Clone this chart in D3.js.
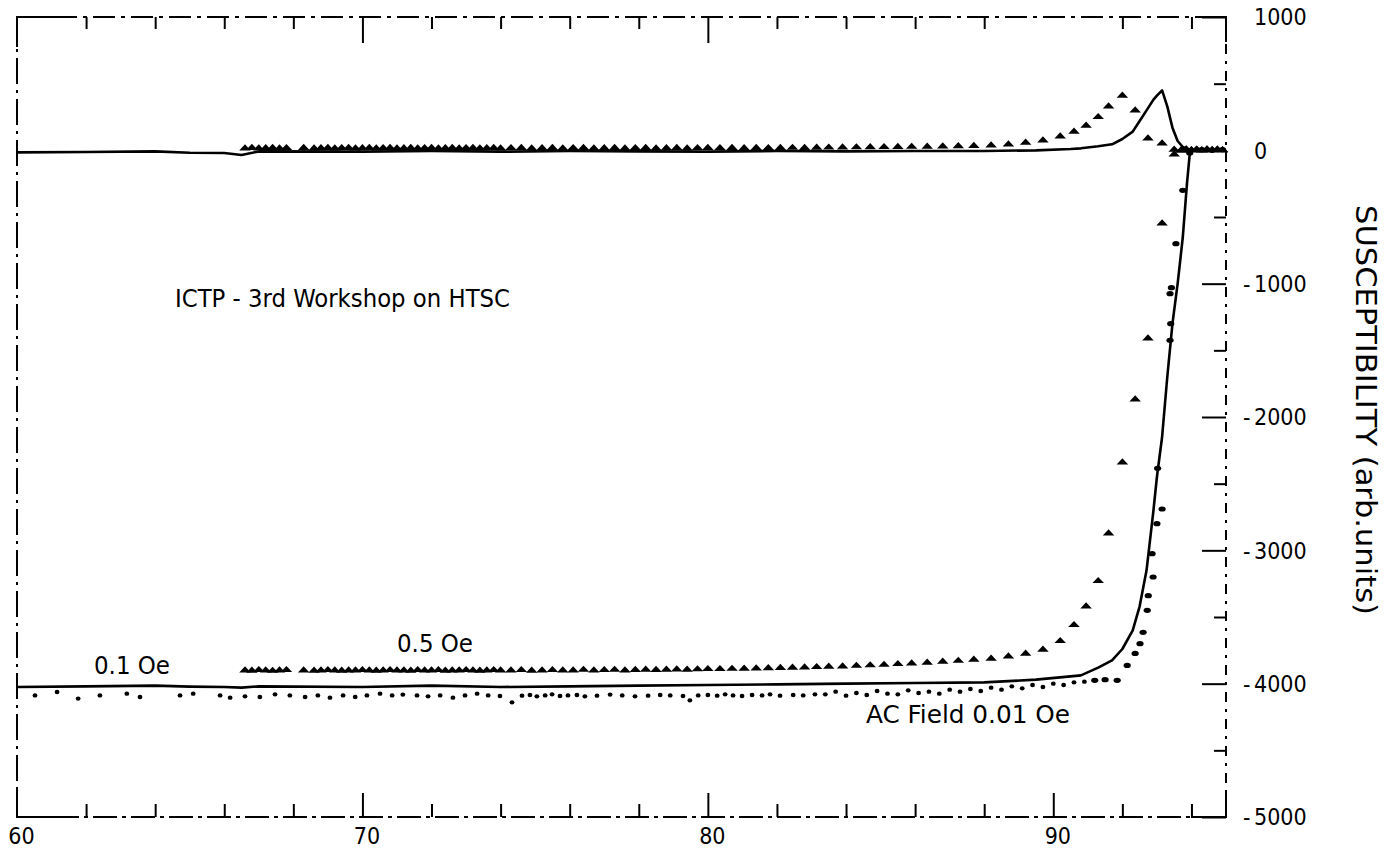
<!DOCTYPE html>
<html>
<head>
<meta charset="utf-8">
<script src="https://cdn.jsdelivr.net/npm/d3@7"></script>
<style>
  html, body { margin: 0; padding: 0; background: #fff; }
  svg { display: block; }
  text { font-family: 'DejaVu Sans', sans-serif; font-stretch: condensed; fill: #000; }
</style>
</head>
<body>
<svg id="chart" width="1394" height="852"></svg>
<script>
// ---------------- DATA ----------------
const xDomain = [60, 95];
const yDomain = [-5000, 1000];
const xTickValues = [60, 70, 80, 90];
const yTickValues = [1000, 0, -1000, -2000, -3000, -4000, -5000];

// 0.1 Oe : solid lines (real part bottom, imaginary part top)
const tLine = [60, 62, 64, 65, 66, 66.5, 67, 70, 72, 74, 76, 78, 80, 82, 84, 86, 88, 89.5, 90.5, 90.8, 91.3, 91.7, 92.0, 92.3, 92.5, 92.7, 92.9, 93.0, 93.15, 93.3, 93.45, 93.6, 93.75, 93.87, 93.96, 94.2, 94.6, 95];
const chiRealLine = [-4025, -4020, -4015, -4022, -4025, -4030, -4020, -4025, -4015, -4025, -4020, -4015, -4010, -4005, -4000, -3995, -3990, -3970, -3945, -3938, -3880, -3826, -3740, -3600, -3420, -3150, -2700, -2450, -2150, -1700, -1300, -1000, -650, -250, 0, 5, 10, 0];
const chiImagLine = [-15, -12, -8, -18, -20, -35, -8, -10, -5, -10, -5, -8, -10, -5, -8, -5, -5, 0, 10, 15, 30, 45, 85, 140, 220, 300, 380, 410, 450, 330, 170, 70, 25, 10, 0, 0, 5, 0];

// 0.5 Oe : triangles (real part bottom, imaginary part top)
const tHalf = [66.6, 66.8, 67.0, 67.2, 67.4, 67.6, 67.8, 68.3, 68.6, 68.8, 69.0, 69.2, 69.4, 69.6, 69.8, 70.0, 70.2, 70.4, 70.6, 70.8, 71.0, 71.2, 71.4, 71.6, 71.8, 72.0, 72.2, 72.4, 72.6, 72.8, 73.0, 73.2, 73.4, 73.6, 73.8, 74.0, 74.3, 74.6, 74.9, 75.2, 75.5, 75.8, 76.1, 76.4, 76.7, 77.0, 77.3, 77.6, 77.9, 78.2, 78.5, 78.8, 79.1, 79.4, 79.7, 80.0, 80.35, 80.7, 81.05, 81.4, 81.75, 82.1, 82.45, 82.8, 83.15, 83.5, 83.9, 84.3, 84.7, 85.1, 85.5, 85.9, 86.35, 86.8, 87.25, 87.7, 88.2, 88.7, 89.2, 89.7, 90.2, 90.6, 90.95, 91.3, 91.6, 92.0, 92.37, 92.74, 93.15, 93.5, 93.7, 93.85, 94.0, 94.15, 94.3, 94.45, 94.6, 94.75, 94.9];
const chiRealHalf = [-3900, -3902, -3898, -3900, -3903, -3900, -3898, -3900, -3902, -3900, -3898, -3900, -3902, -3900, -3900, -3898, -3900, -3902, -3900, -3898, -3900, -3900, -3902, -3898, -3900, -3900, -3898, -3902, -3900, -3900, -3898, -3900, -3902, -3900, -3898, -3900, -3900, -3898, -3902, -3900, -3898, -3900, -3900, -3896, -3900, -3898, -3896, -3900, -3897, -3895, -3897, -3895, -3893, -3895, -3892, -3890, -3890, -3888, -3887, -3885, -3884, -3882, -3880, -3878, -3875, -3872, -3870, -3866, -3862, -3858, -3853, -3848, -3842, -3835, -3828, -3820, -3812, -3795, -3775, -3745, -3680, -3560, -3420, -3230, -2873, -2341, -1868, -1410, -548, -30, 0, 5, 0, 5, 0, 5, 0, 5, 0];
const chiImagHalf = [15, 18, 15, 16, 18, 15, 17, 18, 15, 16, 18, 15, 17, 18, 15, 16, 18, 15, 17, 18, 15, 16, 18, 15, 17, 18, 15, 16, 18, 15, 17, 18, 15, 16, 18, 15, 17, 18, 15, 16, 18, 15, 17, 18, 15, 16, 18, 15, 17, 18, 15, 16, 18, 15, 17, 18, 17, 18, 16, 18, 17, 18, 19, 18, 20, 21, 22, 23, 24, 25, 26, 27, 28, 29, 31, 33, 37, 45, 58, 75, 105, 140, 185, 250, 330, 410, 300, 90, 52, 5, 0, 8, 2, 6, 0, 8, 3, 6, 2];

// 0.01 Oe : dots (real part)
const tLow = [60.52, 61.16, 61.77, 62.40, 63.18, 63.56, 64.72, 65.10, 65.88, 66.17, 66.60, 67.03, 67.47, 67.90, 68.34, 68.71, 69.06, 69.44, 69.79, 70.13, 70.51, 70.86, 71.17, 71.58, 71.90, 72.25, 72.62, 72.97, 73.32, 73.64, 73.98, 74.33, 74.62, 74.85, 75.05, 75.29, 75.49, 75.72, 75.95, 76.21, 76.44, 76.79, 77.17, 77.52, 77.89, 78.27, 78.62, 78.91, 79.28, 79.48, 79.72, 80.0, 80.27, 80.50, 80.73, 80.99, 81.28, 81.57, 81.80, 82.09, 82.47, 82.76, 83.10, 83.4, 83.7, 84.0, 84.3, 84.6, 84.9, 85.2, 85.5, 85.8, 86.1, 86.4, 86.7, 87.0, 87.3, 87.6, 87.9, 88.2, 88.5, 88.8, 89.1, 89.4, 89.7, 90.0, 90.3, 90.6, 90.9, 91.2, 91.5, 91.85, 92.14, 92.37, 92.51, 92.6, 92.72, 92.75, 92.86, 92.89, 93.0, 93.02, 93.15, 93.38, 93.4, 93.38, 93.42, 93.55, 93.75, 93.95, 94.3, 94.6, 94.9];
const chiRealLow = [-4088, -4063, -4112, -4088, -4075, -4100, -4088, -4075, -4088, -4105, -4095, -4100, -4080, -4088, -4100, -4088, -4105, -4088, -4100, -4088, -4075, -4088, -4082, -4088, -4095, -4088, -4105, -4088, -4075, -4088, -4093, -4140, -4090, -4085, -4095, -4088, -4080, -4092, -4088, -4085, -4095, -4090, -4082, -4088, -4095, -4090, -4085, -4088, -4092, -4125, -4088, -4085, -4090, -4080, -4088, -4092, -4085, -4088, -4080, -4090, -4085, -4088, -4080, -4080, -4060, -4090, -4070, -4085, -4055, -4075, -4080, -4050, -4070, -4060, -4075, -4045, -4060, -4040, -4055, -4030, -4045, -4020, -4035, -4010, -4025, -4000, -4010, -3990, -3985, -3975, -3970, -3975, -3863, -3773, -3700, -3615, -3450, -3340, -3025, -3200, -2800, -2385, -2690, -1425, -1300, -1075, -1030, -700, -300, -20, 5, 0, 5];

// Text labels
const fieldLabels = ["0.1 Oe", "0.5 Oe", "AC Field  0.01 Oe"];
const titleText = "ICTP - 3rd Workshop on HTSC";
const yAxisTitle = "SUSCEPTIBILITY (arb.units)";

// ---------------- LAYOUT ----------------
const svg = d3.select("#chart");
const L = 17, R = 1226, T = 17, B = 817;
const x = d3.scaleLinear().domain(xDomain).range([L, R]);
const y = d3.scaleLinear().domain(yDomain).range([B, T]);

// Frame (scanned plotter look: broken lines)
const frame = svg.append("g").attr("fill", "none").attr("stroke", "#000").attr("stroke-width", 2);
frame.append("line").attr("x1", L).attr("x2", R).attr("y1", T).attr("y2", T).attr("stroke-dasharray", "22,6,4,6");
frame.append("line").attr("x1", L).attr("x2", R).attr("y1", B).attr("y2", B).attr("stroke-dasharray", "24,5,4,5");
frame.append("line").attr("x1", L).attr("x2", L).attr("y1", T).attr("y2", B).attr("stroke-dasharray", "26,6,3,6");
frame.append("line").attr("x1", R).attr("x2", R).attr("y1", T).attr("y2", B).attr("stroke-dasharray", "10,7,3,7");
frame.append("path").attr("d", `M${L},${T+30}V${T}H${L+40}`);
frame.append("path").attr("d", `M${L},${B-30}V${B}H${L+40}`);
frame.append("path").attr("d", `M${R-35},${B}H${R}V${B-25}`);
frame.append("path").attr("d", `M${R-30},${T}H${R}V${T+25}`);

const minorX = d3.range(62, 95, 2).filter(v => v % 10 !== 0);
const majorX = [70, 80, 90];

function styleAxis(g) {
  g.select(".domain").remove();
  g.selectAll(".tick line").attr("stroke", "#000").attr("stroke-width", 2);
  g.selectAll(".tick text").remove();
}

// Top ticks (pointing down)
svg.append("g").attr("transform", `translate(0,${T})`)
  .call(d3.axisBottom(x).tickValues(minorX).tickSize(12)).call(styleAxis);
svg.append("g").attr("transform", `translate(0,${T})`)
  .call(d3.axisBottom(x).tickValues([70, 80]).tickSize(26)).call(styleAxis);
// Bottom ticks (pointing up)
svg.append("g").attr("transform", `translate(0,${B})`)
  .call(d3.axisTop(x).tickValues(minorX).tickSize(13)).call(styleAxis);
svg.append("g").attr("transform", `translate(0,${B})`)
  .call(d3.axisTop(x).tickValues(majorX).tickSize(24)).call(styleAxis);
// Bottom labels
const xl = svg.append("g").attr("transform", `translate(0,${B})`)
  .call(d3.axisBottom(x).tickValues(xTickValues).tickSize(0).tickPadding(11).tickFormat(d3.format("d")));
xl.select(".domain").remove();
xl.selectAll(".tick text").attr("font-size", 23).attr("font-family", "'DejaVu Sans', sans-serif")
  .style("font-stretch", "condensed").attr("dx", 4).attr("fill", "#000");

// Right ticks (pointing left)
const minorY = d3.range(-4500, 1000, 1000);
svg.append("g").attr("transform", `translate(${R},0)`)
  .call(d3.axisLeft(y).tickValues(minorY).tickSize(12)).call(styleAxis);
svg.append("g").attr("transform", `translate(${R},0)`)
  .call(d3.axisLeft(y).tickValues(yTickValues).tickSize(24)).call(styleAxis);
// Right labels: digits column + hanging minus
const yl = svg.append("g");
yTickValues.forEach(v => {
  const t = yl.append("text").attr("y", y(v)).attr("dy", "0.36em").attr("font-size", 23);
  if (v < 0) t.append("tspan").attr("x", 1243).text("-");
  t.append("tspan").attr("x", 1254).text(Math.abs(v));
});

// Axis title (rotated clockwise)
svg.append("text")
  .attr("transform", `translate(1366,410) rotate(90)`)
  .attr("text-anchor", "middle").attr("dy", "0.36em")
  .attr("font-size", 29)
  .attr("textLength", 410).attr("lengthAdjust", "spacingAndGlyphs")
  .text(yAxisTitle);

// ---------------- SERIES ----------------
const line = d3.line().x(d => x(d[0])).y(d => y(d[1]));
const plot = svg.append("g");

const lineReal = tLine.map((t, i) => [t, chiRealLine[i]]);
const lineImag = tLine.map((t, i) => [t, chiImagLine[i]]);
plot.append("path").datum(lineReal).attr("d", line).attr("fill", "none").attr("stroke", "#000").attr("stroke-width", 2.6).attr("stroke-linejoin", "round");
plot.append("path").datum(lineImag).attr("d", line).attr("fill", "none").attr("stroke", "#000").attr("stroke-width", 2.6).attr("stroke-linejoin", "round");

const tri = d3.symbol().type(d3.symbolTriangle).size(34);
const halfReal = tHalf.map((t, i) => [t, chiRealHalf[i]]);
const halfImag = tHalf.map((t, i) => [t, chiImagHalf[i]]);
plot.append("g").selectAll("path").data(halfReal.concat(halfImag)).join("path")
  .attr("d", tri).attr("transform", d => `translate(${x(d[0])},${y(d[1])}) scale(1.3,0.8)`)
  .attr("fill", "#000");

const lowReal = tLow.map((t, i) => [t, chiRealLow[i]]);
plot.append("g").selectAll("ellipse").data(lowReal).join("ellipse")
  .attr("cx", d => x(d[0])).attr("cy", d => y(d[1]))
  .attr("rx", d => d[0] > 91 ? 3.6 : 2.4).attr("ry", d => d[0] > 91 ? 2.6 : 2.2)
  .attr("fill", "#000");

// ---------------- TEXT ----------------
svg.append("text").attr("x", 175).attr("y", 307).attr("font-size", 25)
  .attr("textLength", 335).attr("lengthAdjust", "spacingAndGlyphs").text(titleText);
svg.append("text").attr("x", 94).attr("y", 674).attr("font-size", 24)
  .attr("textLength", 76).attr("lengthAdjust", "spacingAndGlyphs").text(fieldLabels[0]);
svg.append("text").attr("x", 397).attr("y", 652).attr("font-size", 24)
  .attr("textLength", 76).attr("lengthAdjust", "spacingAndGlyphs").text(fieldLabels[1]);
svg.append("text").attr("x", 866).attr("y", 723).attr("font-size", 24)
  .attr("textLength", 204).attr("lengthAdjust", "spacingAndGlyphs").text(fieldLabels[2]);
</script>
</body>
</html>
